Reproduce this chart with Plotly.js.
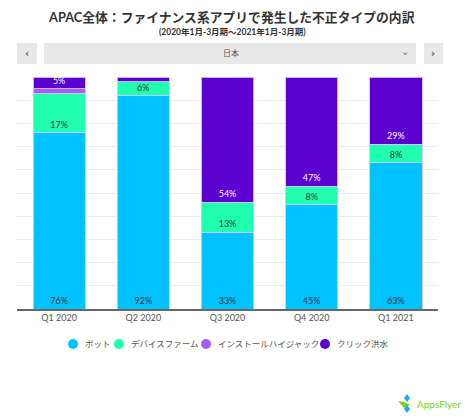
<!DOCTYPE html>
<html>
<head>
<meta charset="utf-8">
<script src="https://cdn.plot.ly/plotly-3.0.1.min.js"></script>
<style>
html,body{margin:0;padding:0;background:#fff;}
#chart{width:468px;height:416px;}
</style>
</head>
<body>
<div id="chart"></div>
<script>
const quarters = ["Q1 2020", "Q2 2020", "Q3 2020", "Q4 2020", "Q1 2021"];
const seriesNames = ["ボット", "デバイスファーム", "インストールハイジャック", "クリック洪水"];
const bots = [76, 92, 33, 45, 63];
const deviceFarm = [17, 6, 13, 8, 8];
const installHijack = [2, 0, 0, 0, 0];
const clickFlood = [5, 2, 54, 47, 29];
const colors = ["#00C2FF", "#1FFFAF", "#A95CF5", "#5B00D1"];
const textColors = ["#333333", "#333333", "#ffffff", "#ffffff"];

const F = "Lato, 'Noto Sans CJK JP', sans-serif";
const allSeries = [bots, deviceFarm, installHijack, clickFlood];

const traces = allSeries.map((vals, i) => ({
  type: "bar",
  name: seriesNames[i],
  x: quarters,
  y: vals,
  marker: {color: colors[i], line: {color: "rgba(215,195,255,0.9)", width: 1}},
  text: vals.map(v => (v >= (i === 2 ? 4 : 3) ? v + "%" : "")),
  textposition: "inside",
  insidetextanchor: "start",
  textangle: 0,
  constraintext: "none",
  textfont: {family: F, size: 9, color: textColors[i]},
  showlegend: false,
  hoverinfo: "skip",
  width: 0.62
}));

// pixel -> paper helpers (plot area: x 17..438, y 77..309)
const px = p => (p - 17) / 421;
const py = p => (309 - p) / 232;

const shapes = [
  {type: "rect", xref: "paper", yref: "paper", x0: px(17), x1: px(37), y0: py(64), y1: py(43), fillcolor: "#e8e8e8", line: {width: 0}, layer: "below"},
  {type: "rect", xref: "paper", yref: "paper", x0: px(44), x1: px(416), y0: py(64), y1: py(43), fillcolor: "#e8e8e8", line: {width: 0}, layer: "below"},
  {type: "rect", xref: "paper", yref: "paper", x0: px(424), x1: px(443), y0: py(64), y1: py(43), fillcolor: "#e8e8e8", line: {width: 0}, layer: "below"},
  // AppsFlyer mark
  {type: "path", xref: "paper", yref: "paper", path: `M ${px(398)} ${py(401)} L ${px(404)} ${py(408)} L ${px(410)} ${py(405)} L ${px(404)} ${py(402)} Z`, fillcolor: "#7ED321", line: {width: 0}},
  {type: "path", xref: "paper", yref: "paper", path: `M ${px(404)} ${py(398)} L ${px(407)} ${py(394)} L ${px(410)} ${py(398)} L ${px(407)} ${py(402)} Z`, fillcolor: "#1EA7F2", line: {width: 0}},
  {type: "path", xref: "paper", yref: "paper", path: `M ${px(404)} ${py(409)} L ${px(407)} ${py(405)} L ${px(410)} ${py(409)} L ${px(407)} ${py(413)} Z`, fillcolor: "#1EA7F2", line: {width: 0}}
];

const legendX = [73, 119, 206, 325];
seriesNames.forEach((n, i) => {
  shapes.push({type: "circle", xref: "paper", yref: "paper", x0: px(legendX[i] - 5), x1: px(legendX[i] + 5), y0: py(349), y1: py(339), fillcolor: colors[i], line: {width: 0}});
});

const ann = (text, x, y, font, xanchor) => ({text, xref: "paper", yref: "paper", x: px(x), y: py(y), xanchor: xanchor || "center", yanchor: "middle", showarrow: false, font});

const annotations = [
  ann("<b>APAC全体：ファイナンス系アプリで発生した不正タイプの内訳</b>", 231, 17, {family: F, size: 12.8, color: "#333"}),
  ann("<b>(2020年1月-3月期～2021年1月-3月期)</b>", 232, 32, {family: F, size: 8.5, color: "#333"}),
  ann("<b>‹</b>", 27, 53, {family: "DejaVu Sans", size: 10, color: "#555"}),
  ann("<b>›</b>", 433, 53, {family: "DejaVu Sans", size: 10, color: "#555"}),
  ann("日本", 231, 53, {family: F, size: 8, color: "#555"}),
  ann("⌄", 405, 51, {family: "DejaVu Sans", size: 10, color: "#777"}),
  ann("AppsFlyer", 463, 404, {family: F, size: 10, color: "#7ED321"}, "right")
];

seriesNames.forEach((n, i) => {
  annotations.push(ann(n, legendX[i] + 10, 344, {family: F, size: 8.5, color: "#555"}, "left"));
});

const layout = {
  width: 468,
  height: 416,
  margin: {l: 17, r: 30, t: 77, b: 107},
  paper_bgcolor: "#ffffff",
  plot_bgcolor: "#ffffff",
  barmode: "stack",
  showlegend: false,
  xaxis: {
    type: "category",
    range: [-0.5, 4.5],
    showgrid: false,
    showline: true,
    linecolor: "#666",
    linewidth: 1.5,
    ticks: "",
    tickfont: {family: F, size: 9, color: "#555"},
    fixedrange: true
  },
  yaxis: {
    range: [0, 100],
    dtick: 10,
    showgrid: true,
    gridcolor: "#ebebeb",
    gridwidth: 1,
    showticklabels: false,
    zeroline: false,
    fixedrange: true
  },
  shapes: shapes,
  annotations: annotations,
  font: {family: F}
};

Plotly.newPlot("chart", traces, layout, {displayModeBar: false, staticPlot: true});
</script>
</body>
</html>
